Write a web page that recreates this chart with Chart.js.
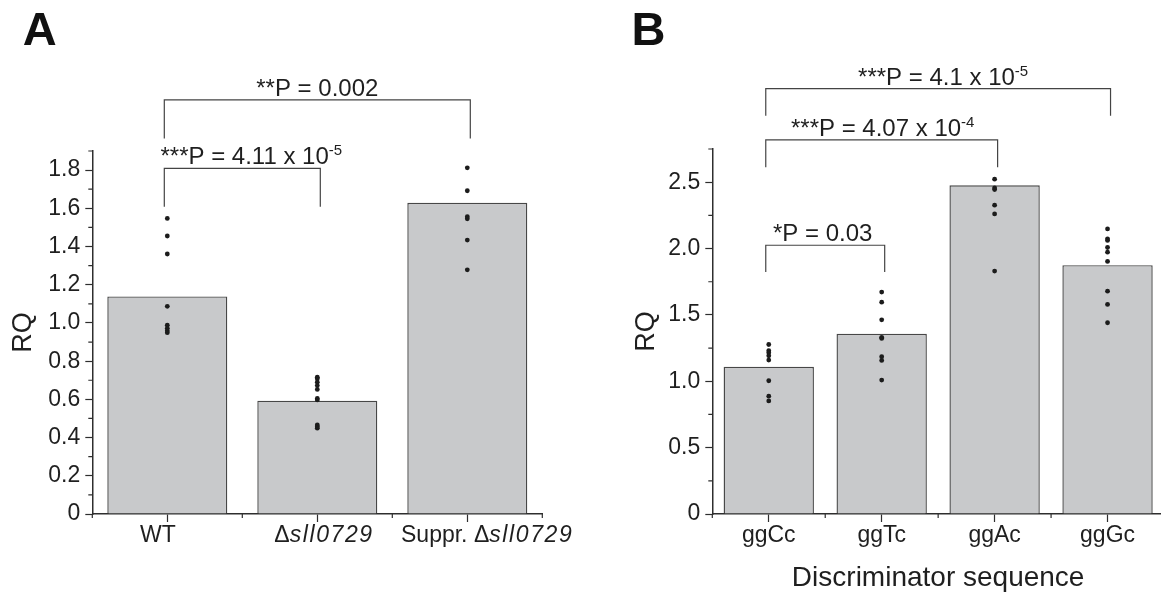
<!DOCTYPE html>
<html>
<head>
<meta charset="utf-8">
<script src="https://cdn.jsdelivr.net/npm/chart.js@4.4.1/dist/chart.umd.min.js"></script>
<style>
  html, body { margin: 0; padding: 0; background: #fff; overflow: hidden; }
  #wrapA { position: absolute; left: 0; top: 0; width: 580px; height: 595px; }
  #wrapB { position: absolute; left: 600px; top: 0; width: 570px; height: 595px; }
</style>
</head>
<body>
<div id="wrapA"><canvas id="panelA"></canvas></div>
<div id="wrapB"><canvas id="panelB"></canvas></div>
<script>
'use strict';

// panel A
const catsA = ['WT', 'Δsll0729', 'Suppr. Δsll0729'];
const meanA = [1.139, 0.593, 1.629];
const dotsA = [
    [1.547, 1.455, 1.361, 1.087, 0.988, 0.972, 0.959, 0.949],
    [0.716, 0.708, 0.690, 0.672, 0.652, 0.605, 0.597, 0.466, 0.457, 0.449],
    [1.812, 1.692, 1.556, 1.545, 1.434, 1.278]
];
const yTicksA = [0, 0.2, 0.4, 0.6, 0.8, 1.0, 1.2, 1.4, 1.6, 1.8];
const yTickLabelsA = ['0', '0.2', '0.4', '0.6', '0.8', '1.0', '1.2', '1.4', '1.6', '1.8'];
const yMaxA = 1.9;
const pairsA = [
    { from: 0, to: 2, level: 2.168, foot: 1.966, text: '**P = 0.002', sup: '' },
    { from: 0, to: 1, level: 1.809, foot: 1.608, text: '***P = 4.11 x 10', sup: '-5' }
];

// panel B
const catsB = ['ggCc', 'ggTc', 'ggAc', 'ggGc'];
const meanB = [1.109, 1.358, 2.477, 1.875];
const dotsB = [
    [1.277, 1.230, 1.214, 1.192, 1.160, 1.004, 0.888, 0.852],
    [1.672, 1.596, 1.463, 1.331, 1.323, 1.185, 1.157, 1.009],
    [2.523, 2.457, 2.445, 2.327, 2.261, 1.830],
    [2.148, 2.073, 2.061, 2.008, 1.973, 1.903, 1.679, 1.579, 1.441]
];
const yTicksB = [0, 0.5, 1.0, 1.5, 2.0, 2.5];
const yTickLabelsB = ['0', '0.5', '1.0', '1.5', '2.0', '2.5'];
const yMaxB = 2.75;
const pairsB = [
    { from: 0, to: 3, level: 3.205, foot: 3.001, text: '***P = 4.1 x 10', sup: '-5' },
    { from: 0, to: 2, level: 2.818, foot: 2.613, text: '***P = 4.07 x 10', sup: '-4' },
    { from: 0, to: 1, level: 2.025, foot: 1.824, text: '*P = 0.03', sup: '' }
];

const FAMILY = "'Liberation Sans', Arial, Helvetica, sans-serif";
const INK = '#2e2e2e';
const TEXT = '#1f1f1f';
Chart.defaults.font.family = FAMILY;
Chart.defaults.color = TEXT;

// draws a run of text pieces (italic / superscript); anchor is the centre, or the left edge
function drawRich(ctx, parts, ax, base, size, fromLeft) {
    const fontOf = p => (p.italic ? 'italic ' : '') + (p.sup ? 15 : size) + 'px ' + FAMILY;
    const setup = p => {
        ctx.font = fontOf(p);
        ctx.letterSpacing = p.italic ? '1.6px' : '0px';
    };
    let w = 0;
    parts.forEach(p => {
        if (!p.t) return;
        setup(p);
        w += ctx.measureText(p.t).width;
    });
    let x = fromLeft ? ax : ax - w / 2;
    ctx.textAlign = 'left';
    ctx.textBaseline = 'alphabetic';
    ctx.fillStyle = TEXT;
    parts.forEach(p => {
        if (!p.t) return;
        setup(p);
        ctx.fillText(p.t, x, p.sup ? base - 9 : base);
        x += ctx.measureText(p.t).width;
    });
    ctx.letterSpacing = '0px';
}

// gene names in italics, the rest upright
function labelParts(s) {
    return s.split(/(sll\d+)/).filter(Boolean).map(t => ({ t: t, italic: /^sll\d+$/.test(t) }));
}

const panelDecor = {
    id: 'panelDecor',
    afterDraw(chart, args, o) {
        const ctx = chart.ctx;
        const xs = chart.scales.x, ys = chart.scales.y;
        ctx.save();

        // minor ticks
        ctx.strokeStyle = INK;
        ctx.lineWidth = 1.2;
        ctx.beginPath();
        const step = o.yTicks[1] - o.yTicks[0];
        o.yTicks.forEach(v => {
            const py = ys.getPixelForValue(v + step / 2);
            ctx.moveTo(xs.left - 4, py);
            ctx.lineTo(xs.left, py);
        });
        for (let i = 0; i <= o.cats.length; i++) {
            const px = xs.getPixelForValue(i - 0.5);
            ctx.moveTo(px, ys.bottom);
            ctx.lineTo(px, ys.bottom + 4);
        }
        ctx.stroke();

        // significance brackets
        ctx.strokeStyle = '#444';
        ctx.lineWidth = 1.2;
        o.pairs.forEach((p, k) => {
            const x1 = xs.getPixelForValue(p.from) - 3;
            const x2 = xs.getPixelForValue(p.to) + 3;
            const yl = ys.getPixelForValue(p.level);
            const yf = ys.getPixelForValue(p.foot);
            ctx.beginPath();
            ctx.moveTo(x1, yf);
            ctx.lineTo(x1, yl);
            ctx.lineTo(x2, yl);
            ctx.lineTo(x2, yf);
            ctx.stroke();
            drawRich(ctx, [{ t: p.text }, { t: p.sup, sup: true }], (x1 + x2) / 2 + o.textShift[k], yl - 4, 24);
        });

        // category labels with italics
        if (o.richLabels) {
            o.cats.forEach((c, i) => {
                drawRich(ctx, labelParts(c), xs.getPixelForValue(i) + o.labelStart[i], ys.bottom + 27.5, 23, true);
            });
        }

        // panel letter
        ctx.font = 'bold 47px ' + FAMILY;
        ctx.fillStyle = '#111';
        ctx.textAlign = 'left';
        ctx.textBaseline = 'alphabetic';
        ctx.fillText(o.letter, o.letterX, 45);
        ctx.restore();
    }
};

function makePanel(id, o) {
    const points = [];
    o.dots.forEach((list, i) => list.forEach(v => points.push({ x: o.cats[i], y: v })));
    return new Chart(document.getElementById(id), {
        type: 'bar',
        data: {
            labels: o.cats,
            datasets: [{
                type: 'bar',
                data: o.means,
                backgroundColor: '#c8c9cb',
                borderColor: '#474747',
                borderWidth: 1.4,
                barPercentage: 1,
                categoryPercentage: 0.8,
                order: 2
            }, {
                type: 'scatter',
                data: points,
                pointRadius: 2.4,
                pointBackgroundColor: '#1c1c1c',
                pointBorderWidth: 0,
                order: 1
            }]
        },
        options: {
            responsive: true,
            maintainAspectRatio: false,
            animation: false,
            layout: { padding: { top: o.top, right: o.right, left: 0, bottom: 0 } },
            plugins: {
                legend: { display: false },
                tooltip: { enabled: false },
                panelDecor: o
            },
            scales: {
                x: {
                    grid: { drawOnChartArea: false, offset: false, tickLength: 8, tickColor: INK, tickWidth: 1.2 },
                    border: { color: INK, width: 1.5 },
                    ticks: { display: !o.richLabels, font: { size: 23 }, color: TEXT, padding: 0, autoSkip: false, maxRotation: 0 },
                    title: o.xTitle
                        ? { display: true, text: o.xTitle, font: { size: 28 }, color: TEXT, padding: 0 }
                        : { display: false },
                    afterFit: s => { s.height = 81; }
                },
                y: {
                    min: 0,
                    max: o.yMax,
                    grid: { drawOnChartArea: false, tickLength: 7, tickColor: INK, tickWidth: 1.2 },
                    border: { color: INK, width: 1.5 },
                    afterBuildTicks: s => { s.ticks = o.yTicks.map(v => ({ value: v })); },
                    ticks: { font: { size: 23 }, color: TEXT, padding: 5, callback: (v, i) => o.yTickLabels[i] },
                    title: { display: true, text: 'RQ', font: { size: 27 }, color: TEXT, padding: { top: o.rqPad, bottom: 0 } },
                    afterFit: s => { s.width = o.yWidth; }
                }
            }
        },
        plugins: [panelDecor]
    });
}

makePanel('panelA', {
    cats: catsA, means: meanA, dots: dotsA, yTicks: yTicksA, yTickLabels: yTickLabelsA, yMax: yMaxA,
    pairs: pairsA, textShift: [0, 9], richLabels: true, labelStart: [-27.3, -43, -66.3],
    top: 151, right: 37.7, yWidth: 92.3, rqPad: 7.8, letter: 'A', letterX: 22.7
});

makePanel('panelB', {
    cats: catsB, means: meanB, dots: dotsB, yTicks: yTicksB, yTickLabels: yTickLabelsB, yMax: yMaxB,
    pairs: pairsB, textShift: [5, 1, -2.5], richLabels: false, xTitle: 'Discriminator sequence',
    top: 149, right: 6, yWidth: 112.3, rqPad: 30.2, letter: 'B', letterX: 31.5
});
</script>
</body>
</html>
